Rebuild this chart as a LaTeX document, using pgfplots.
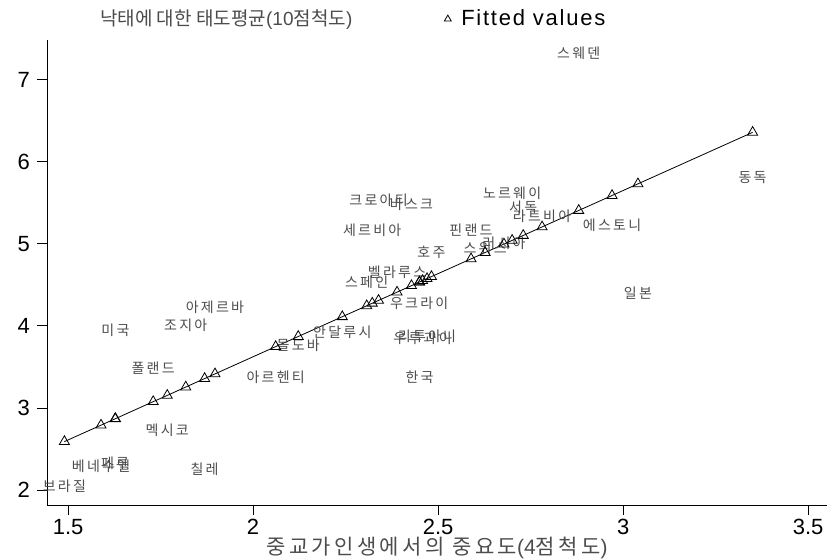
\documentclass[border=0pt]{standalone}
\usepackage{fontspec}
\setmainfont{Liberation Sans}
\newfontfamily\kr{Noto Sans CJK KR}
\newfontfamily\krs[LetterSpace=16]{Noto Sans CJK KR}
\newfontfamily\lgf[LetterSpace=8]{Liberation Sans}
\usepackage{pgfplots}
\usepackage{pgfplotstable}
\pgfplotsset{compat=1.18}
\definecolor{labgray}{gray}{0.3}

\pgfplotstableread{
x y label
1.49 2.05 브라질
1.589 2.29 베네수엘
1.627 2.33 페루
1.628 3.95 미국
1.73 3.48 폴랜드
1.768 2.73 멕시코
1.818 4.01 조지아
1.869 2.26 칠레
1.897 4.23 아제르바
2.061 3.37 아르헨티
2.122 3.76 몰도바
2.241 3.92 안달루시
2.307 4.53 스페인
2.322 5.16 세르비아
2.339 5.53 크로아티
2.389 4.65 벨라루스
2.428 5.48 바스크
2.449 4.27 우크라이
2.45 3.37 한국
2.458 3.85 우루과이
2.47 3.87 리투아니
2.482 4.90 호주
2.589 5.16 핀랜드
2.627 4.94 스위스
2.678 5.00 러시아
2.70 5.61 노르웨이
2.73 5.44 서독
2.781 5.33 라트비아
2.88 7.32 스웨덴
2.97 5.22 에스토니
3.04 4.40 일본
3.35 5.80 동독
}\countries

\pgfplotstableread{
x y
1.49 2.592
1.589 2.792
1.627 2.869
1.628 2.871
1.73 3.078
1.768 3.154
1.818 3.256
1.869 3.359
1.897 3.416
2.061 3.748
2.122 3.871
2.241 4.112
2.307 4.245
2.322 4.276
2.339 4.310
2.389 4.411
2.428 4.490
2.449 4.533
2.45 4.535
2.458 4.551
2.47 4.575
2.482 4.600
2.589 4.816
2.627 4.893
2.678 4.996
2.70 5.041
2.73 5.101
2.781 5.205
2.88 5.405
2.97 5.587
3.04 5.729
3.35 6.356
}\fitted

\begin{document}
\begin{tikzpicture}
\begin{axis}[
  name=ax,
  scale only axis,
  width=390pt, height=232.5pt,
  xmin=1.443, xmax=3.551, ymin=1.82, ymax=7.48,
  axis lines=left,
  axis line style={-, line width=0.5pt},
  xtick={1.5,2,2.5,3,3.5},
  ytick={2,3,4,5,6,7},
  xticklabels={1.5,2,2.5,3,3.5},
  tick align=outside,
  major tick length=5pt,
  tick style={black, line width=0.5pt},
  ticklabel style={font=\fontsize{11}{12}\selectfont},
  xticklabel style={yshift=1.5pt},
  /pgf/number format/assume math mode=true,
  xlabel={{\krs 중교가인생에서의 중요도}(4{\krs 점척도})},
  xlabel style={font=\fontsize{10.5}{11}\selectfont, text=labgray, yshift=5.5pt},
  clip=false,
  legend columns=2,
  legend style={at={(0.055,1.045)}, anchor=west, draw=none, fill=none,
    font=\fontsize{10.5}{12}\selectfont,
    /tikz/every even column/.append style={column sep=44pt}},
]
\addplot[draw=none, mark=none, nodes near coords, point meta=explicit symbolic,
  nodes near coords style={anchor=center, font=\krs\fontsize{7}{8}\selectfont, text=labgray, inner sep=0pt},
  forget plot] table[x=x, y=y, meta=label] {\countries};
\addplot[black, line width=0.4pt, mark=triangle, mark size=2.9pt,
  mark options={solid, line width=0.4pt}, forget plot] table[x=x, y=y] {\fitted};
\addlegendimage{empty legend}
\addlegendentry{\textcolor{labgray}{\fontsize{9.5}{11}\selectfont{\kr 낙태에 대한 태도평균}(10{\kr 점척도})}}
\addlegendimage{black, only marks, mark=triangle, mark size=2pt, mark options={line width=0.4pt}}
\addlegendentry{\hspace{3pt}{\lgf\fontsize{11}{12}\selectfont Fitted values}}
\end{axis}
\pgfresetboundingbox
\path[use as bounding box] ([xshift=-23.5pt, yshift=-26.5pt]ax.south west) rectangle ([yshift=20pt]ax.north east);
\end{tikzpicture}
\end{document}
